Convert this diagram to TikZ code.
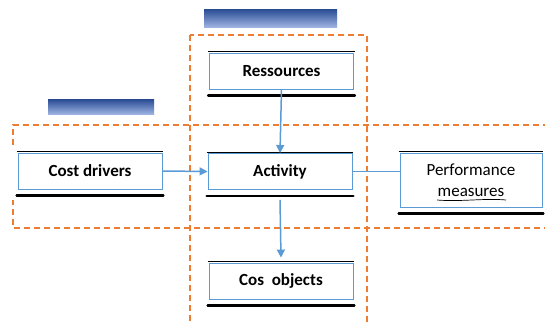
\documentclass[tikz,border=0pt]{standalone}
\usepackage{fontspec}
\setmainfont{Carlito}
\usetikzlibrary{arrows.meta}
\definecolor{boxblue}{HTML}{5B9BD5}
\definecolor{dashorange}{HTML}{ED7D31}
\definecolor{bartop}{HTML}{2F5198}
\definecolor{barbot}{HTML}{A3B8E6}
\tikzset{
  stepbox/.style={draw=boxblue, line width=0.9pt, fill=white, minimum width=144pt,
    minimum height=36pt, inner sep=2pt, align=center,
    font=\fontsize{17}{20}\selectfont\bfseries},
  viewframe/.style={draw=dashorange, line width=2pt, dash pattern=on 6pt off 4pt},
  flow/.style={draw=boxblue, line width=1.5pt},
  flowarrow/.style={flow, -{Triangle[length=8pt,width=8pt]}},
  headerbar/.style={top color=bartop, bottom color=barbot, draw=none},
}
\begin{document}
\begin{tikzpicture}[x=1pt,y=-1pt]
\useasboundingbox (0,0) rectangle (545,323);
\clip (0,0) rectangle (545,323);
\fill[white] (0,0) rectangle (545,323);

% view headers
\shade[headerbar] (204,10) rectangle (337,28);
\shade[headerbar] (48,100) rectangle (154,115);

% dashed view frames
\draw[viewframe] (190,35) rectangle (367,330);
\draw[viewframe] (13,145) -- (13,125) -- (550,125);
\draw[viewframe] (550,228) -- (13,228) -- (13,200);

% activity boxes
\node[stepbox] (res)  at (281.5,71)  {Ressources};
\node[stepbox] (act)  at (280,171.5) {Activity};
\node[stepbox] (drv)  at (90,171)    {Cost drivers};
\node[stepbox, minimum width=142pt, minimum height=54pt, font=\fontsize{17}{20}\selectfont] (perf) at (471,180)
  {Performance\\[1pt]measures};
\node[stepbox] (obj)  at (281,281)   {Cos\ \ objects};

% edge lines above and below each box
\foreach \n in {res,act,drv,perf,obj}{
  \draw[black, line width=1pt] ([xshift=-1pt,yshift=1pt]\n.north west) -- ([xshift=1pt,yshift=1pt]\n.north east);
  \draw[black, line width=2.2pt, line cap=round] ([xshift=-1pt,yshift=-6pt]\n.south west) -- ([xshift=1pt,yshift=-6pt]\n.south east);
}

% spelling mark under "measures"
\draw[black, line width=0.7pt] (437,200) .. controls (460,202) and (485,198) .. (506,200);

% connectors
\draw[flowarrow] (res.south) -- (act.north);
\draw[flowarrow] (drv.east) -- (act.west);
\draw[flow] (act.east) -- (act.east -| perf.west);
\draw[flowarrow] ([yshift=-10pt]act.south) -- ([yshift=5pt]obj.north);
\end{tikzpicture}
\end{document}
